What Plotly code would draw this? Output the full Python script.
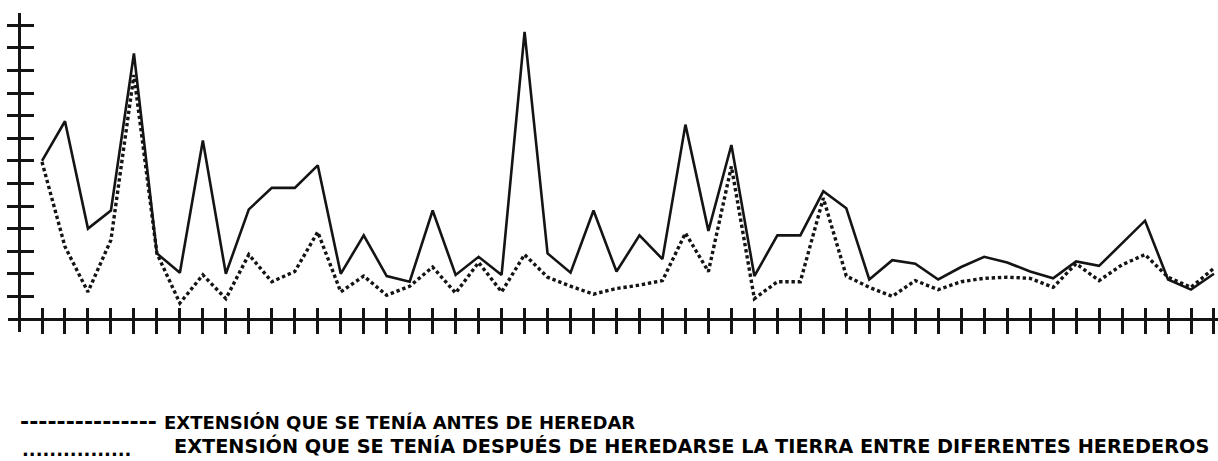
import plotly.graph_objects as go

# ---- data ----
points = list(range(52))
antes = [7.0, 8.75, 4.0, 4.8, 11.75, 2.9, 2.05, 7.9, 2.0, 4.85,
         5.8, 5.8, 6.8, 2.0, 3.7, 1.9, 1.65, 4.8, 1.95, 2.75,
         1.95, 12.7, 2.9, 2.05, 4.8, 2.1, 3.7, 2.65, 8.6, 3.9,
         7.7, 1.9, 3.7, 3.7, 5.65, 4.9, 1.75, 2.6, 2.45, 1.75,
         2.3, 2.75, 2.5, 2.1, 1.8, 2.55, 2.35, 3.35, 4.35, 1.75,
         1.3, 2.0]
despues = [6.95, 3.2, 1.2, 3.5, 10.8, 2.9, 0.7, 1.95, 0.9, 2.85,
           1.65, 2.1, 3.85, 1.2, 1.9, 1.05, 1.45, 2.3, 1.15, 2.5,
           1.2, 2.85, 1.85, 1.45, 1.1, 1.35, 1.5, 1.7, 3.8, 2.1,
           6.75, 0.9, 1.65, 1.65, 5.35, 1.9, 1.4, 1.0, 1.7, 1.3,
           1.65, 1.8, 1.85, 1.8, 1.4, 2.45, 1.7, 2.4, 2.85, 1.85,
           1.4, 2.25]
y_ticks = list(range(1, 14))
legend_antes = "EXTENSIÓN QUE SE TENÍA ANTES DE HEREDAR"
legend_despues = "EXTENSIÓN QUE SE TENÍA DESPUÉS DE HEREDARSE LA TIERRA ENTRE DIFERENTES HEREDEROS"
legend_antes_mark = "---------------"
legend_despues_mark = "................"

INK = "#141414"
W, H = 1218, 461
T, B = 13, 129           # plot area spans px 13..332 vertically
PH = H - T - B

def py(p):   # pixel y -> paper y
    return (H - B - p) / PH

fig = go.Figure()
fig.add_trace(go.Scatter(x=points, y=despues, mode="lines",
                         line=dict(color=INK, width=3.4, dash="3.4px,2.8px"),
                         hoverinfo="skip", showlegend=False))
fig.add_trace(go.Scatter(x=points, y=antes, mode="lines",
                         line=dict(color=INK, width=2.6),
                         hoverinfo="skip", showlegend=False))
# invisible trace on the overlay axes so that their inner ticks are drawn
fig.add_trace(go.Scatter(x=[points[0]], y=[y_ticks[0]], mode="markers",
                         marker=dict(opacity=0), xaxis="x2", yaxis="y2",
                         hoverinfo="skip", showlegend=False))

xr = [-1.4795, 51.175]
yr = [-0.575, 13.54]
xpos = py(319)
ypos = 19 / W

common = dict(showgrid=False, zeroline=False, showticklabels=False,
              tickcolor=INK, tickwidth=3)
fig.update_layout(
    width=W, height=H,
    margin=dict(l=0, r=0, t=T, b=B, pad=0),
    paper_bgcolor="white", plot_bgcolor="white",
    xaxis=dict(domain=[8 / W, 1], range=xr, anchor="free", position=xpos,
               showline=True, linecolor=INK, linewidth=2.6,
               tickvals=points, ticks="outside", ticklen=13, **common),
    xaxis2=dict(domain=[8 / W, 1], range=xr, overlaying="x", anchor="free",
                position=xpos, showline=False,
                tickvals=points, ticks="inside", ticklen=11, **common),
    yaxis=dict(range=yr, anchor="free", position=ypos,
               showline=True, linecolor=INK, linewidth=2.6,
               tickvals=y_ticks, ticks="outside", ticklen=11, **common),
    yaxis2=dict(range=yr, overlaying="y", anchor="free", position=ypos,
                showline=False,
                tickvals=y_ticks, ticks="inside", ticklen=14, **common),
    showlegend=False,
)

FONT = "DejaVu Sans"
fig.add_annotation(text="<b>" + legend_antes_mark + "</b>", xref="paper", yref="paper",
                   x=18 / W, y=py(421), xanchor="left", yanchor="middle",
                   showarrow=False, font=dict(family=FONT, size=22, color="black"))
fig.add_annotation(text="<b>" + legend_antes + "</b>", xref="paper", yref="paper",
                   x=162 / W, y=py(422), xanchor="left", yanchor="middle",
                   showarrow=False, font=dict(family=FONT, size=18, color="black"))
fig.add_annotation(text="<b>" + legend_despues_mark + "</b>", xref="paper", yref="paper",
                   x=20 / W, y=py(449), xanchor="left", yanchor="middle",
                   showarrow=False, font=dict(family=FONT, size=18, color="black"))
fig.add_annotation(text="<b>" + legend_despues + "</b>", xref="paper", yref="paper",
                   x=172 / W, y=py(446), xanchor="left", yanchor="middle",
                   showarrow=False, font=dict(family=FONT, size=19.3, color="black"))

fig.write_html("out.html",
               config={"displayModeBar": False},
               post_script="document.body.style.margin='0';"
                           "document.body.style.overflow='hidden';")
